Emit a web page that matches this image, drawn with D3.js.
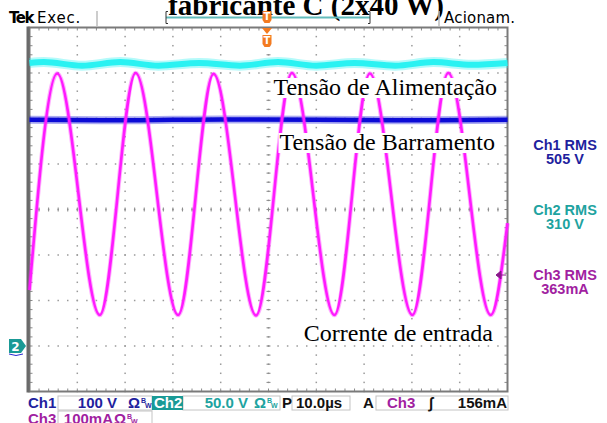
<!DOCTYPE html>
<html>
<head>
<meta charset="utf-8">
<script src="https://cdn.jsdelivr.net/npm/d3@7"></script>
<style>
  body { margin: 0; background: #fff; }
  svg { display: block; }
  .tek { font-family: "DejaVu Sans", sans-serif; }
  .ro { font-family: "Liberation Sans", Arial, sans-serif; font-weight: bold; }
  .serif { font-family: "Liberation Serif", "Times New Roman", serif; }
</style>
</head>
<body>
<script>
// scope settings
var timePerDiv = 10;          // µs / div
var ch1Scale = 100;           // V / div
var ch2Scale = 50;            // V / div
var ch3Scale = 100;           // mA / div
var groundDiv = -3;           // all channels referenced here

// Ch1 - bus voltage (dark blue)
var ch1Time = [0, 20, 40, 60, 80, 100];
var ch1Volts = [497, 496, 498, 497, 496, 497];

// Ch2 - supply voltage (cyan), small ripple
var ch2Time = [0, 3, 11, 19, 27, 35.5, 44, 52, 60, 68, 76.5, 84.5, 92.5, 100];
var ch2Volts = [311, 312, 308, 312, 308, 311, 308, 312, 308, 311, 308, 312, 309, 311];

// Ch3 - input current (magenta)
var ch3Time = [0, 5.8, 14.7, 22.2, 31.1, 38.5, 47.4, 54.9, 63.8, 71.2, 80.1, 87.6, 96.5, 100];
var ch3Current = [123, 599, 68, 600, 68, 598, 67, 600, 68, 599, 68, 600, 68, 270];

var rmsLabels = [
  { name: "Ch1 RMS", value: "505 V", color: "#1f1f9e" },
  { name: "Ch2 RMS", value: "310 V", color: "#1ea3a0" },
  { name: "Ch3 RMS", value: "363mA", color: "#a11fa1" }
];
var traceLabels = ["Tensão de Alimentação", "Tensão de Barramento", "Corrente de entrada"];

var W = 607, H = 423;
var pLeft = 29.5, pRight = 507.5, pTop = 27.5, pBottom = 391.5;

var svg = d3.select("body").append("svg")
  .attr("width", W)
  .attr("height", H);

svg.append("rect").attr("width", W).attr("height", H).attr("fill", "#fff");

var x = d3.scaleLinear().domain([0, 10 * timePerDiv]).range([pLeft, pRight]);
var y = d3.scaleLinear().domain([-4, 4]).range([pBottom, pTop]);

// title, cut at the top of the picture
svg.append("text")
  .attr("class", "serif")
  .attr("x", 306)
  .attr("y", 15)
  .attr("text-anchor", "middle")
  .attr("font-size", 29)
  .attr("font-weight", "bold")
  .text("fabricante C (2x40 W)");

// top status bar
svg.append("text").attr("class", "tek").attr("x", 9).attr("y", 23)
  .attr("font-size", 15).attr("font-weight", "bold").attr("letter-spacing", -1.5).text("Tek");
svg.append("text").attr("class", "tek").attr("x", 37).attr("y", 23)
  .attr("font-size", 15).attr("letter-spacing", 0.8).text("Exec.");
svg.append("text").attr("class", "tek").attr("x", 444).attr("y", 23)
  .attr("font-size", 15).attr("letter-spacing", 0.2).text("Acionam.");
[97, 439].forEach(function(sx) {
  svg.append("line").attr("x1", sx).attr("x2", sx).attr("y1", 11).attr("y2", 26)
    .attr("stroke", "#bdbdbd").attr("stroke-width", 1.5);
});
// record window bracket
svg.append("line").attr("x1", 166).attr("x2", 370).attr("y1", 17.5).attr("y2", 17.5)
  .attr("stroke", "#62bcbc").attr("stroke-width", 2);
svg.append("path").attr("d", "M168,11.5 H166 V23.5 H168 M368,11.5 H370 V23.5 H368")
  .attr("fill", "none").attr("stroke", "#333").attr("stroke-width", 1);

var orange = "#f47b20";
function tMarker(cx, cy) {
  svg.append("path")
    .attr("d", "M" + (cx - 4.5) + "," + (cy - 6) + " h9 v9 l-2,3 h-5 l-2,-3 z")
    .attr("fill", orange);
  svg.append("text").attr("class", "tek").attr("x", cx).attr("y", cy + 3)
    .attr("text-anchor", "middle").attr("font-size", 10).attr("font-weight", "bold")
    .attr("fill", "#fff").text("T");
}

// graticule dots
var grid = svg.append("g");
d3.range(1, 10).forEach(function(i) {
  d3.range(0, 40).forEach(function(j) {
    grid.append("rect").attr("x", x(i * timePerDiv) - 0.75).attr("y", y(-4 + j / 5) - 0.75)
      .attr("width", 1.5).attr("height", 1.5).attr("fill", "#9a9a9a");
  });
});
d3.range(-3, 4).forEach(function(d) {
  d3.range(0, 50).forEach(function(j) {
    grid.append("rect").attr("x", x(j * timePerDiv / 5) - 0.75).attr("y", y(d) - 0.75)
      .attr("width", 1.5).attr("height", 1.5).attr("fill", "#9a9a9a");
  });
});
// minor ticks along frame edges and centre lines
var ticks = svg.append("g").attr("stroke", "#8a8a8a").attr("stroke-width", 1);
d3.range(1, 50).forEach(function(j) {
  var tx = x(j * timePerDiv / 5);
  ticks.append("line").attr("x1", tx).attr("x2", tx).attr("y1", pTop).attr("y2", pTop + 3);
  ticks.append("line").attr("x1", tx).attr("x2", tx).attr("y1", pBottom).attr("y2", pBottom - 3);
  ticks.append("line").attr("x1", tx).attr("x2", tx).attr("y1", y(0) - 2).attr("y2", y(0) + 2);
});
d3.range(1, 40).forEach(function(j) {
  var ty = y(-4 + j / 5);
  ticks.append("line").attr("x1", pLeft).attr("x2", pLeft + 3).attr("y1", ty).attr("y2", ty);
  ticks.append("line").attr("x1", pRight).attr("x2", pRight - 3).attr("y1", ty).attr("y2", ty);
  ticks.append("line").attr("x1", x(50) - 2).attr("x2", x(50) + 2).attr("y1", ty).attr("y2", ty);
});
// frame
svg.append("rect").attr("x", pLeft).attr("y", pTop)
  .attr("width", pRight - pLeft).attr("height", pBottom - pTop)
  .attr("fill", "none").attr("stroke", "#7a7a7a").attr("stroke-width", 2);
svg.append("line").attr("x1", pLeft - 1.5).attr("x2", pLeft - 1.5).attr("y1", pTop - 1).attr("y2", pBottom + 1)
  .attr("stroke", "#6a6a6a").attr("stroke-width", 3);

// trigger position markers
tMarker(x(50) - 1.5, 17);
svg.append("path")
  .attr("d", "M" + (x(50) - 6.5) + ",28 h10 l-5,6 z").attr("fill", orange);
tMarker(x(50) - 1.5, 41);

// traces
function toDiv(v, scale) { return v / scale + groundDiv; }
function trace(times, vals, scale, color, core, halo, curve) {
  var pts = times.map(function(t, i) { return [t, vals[i]]; });
  var line = d3.line()
    .x(function(d) { return x(d[0]); })
    .y(function(d) { return y(toDiv(d[1], scale)); })
    .curve(curve);
  svg.append("path").datum(pts).attr("d", line).attr("fill", "none")
    .attr("stroke", color).attr("stroke-width", halo).attr("stroke-opacity", 0.35);
  svg.append("path").datum(pts).attr("d", line).attr("fill", "none")
    .attr("stroke", color).attr("stroke-width", core).attr("stroke-linejoin", "round");
}
trace(ch2Time, ch2Volts, ch2Scale, "#2af2f2", 6, 10, d3.curveMonotoneX);
trace(ch1Time, ch1Volts, ch1Scale, "#0b0bd6", 4.5, 8, d3.curveMonotoneX);
trace(ch3Time, ch3Current, ch3Scale, "#ff1aff", 2.6, 4.5, d3.curveMonotoneX);

// trace annotations on white boxes
var labelY = [95, 150, 341];
var labelRight = [497, 495, 493];
traceLabels.forEach(function(txt, i) {
  var t = svg.append("text").attr("class", "serif")
    .attr("x", labelRight[i]).attr("y", labelY[i])
    .attr("text-anchor", "end").attr("font-size", 24).text(txt);
  var bb = t.node().getBBox();
  svg.insert("rect", function() { return t.node(); })
    .attr("x", bb.x - 1).attr("y", bb.y + 4).attr("width", bb.width + 2).attr("height", bb.height - 6)
    .attr("fill", "#fff");
});

// ground marker for Ch2 (Ch1 underneath)
var gy = y(groundDiv);
svg.append("path")
  .attr("d", "M9," + (gy - 7) + " h12 l5,7 l-5,7 h-12 z").attr("fill", "#1a9a96");
svg.append("text").attr("class", "tek").attr("x", 15.5).attr("y", gy + 4.5)
  .attr("text-anchor", "middle").attr("font-size", 12).attr("font-weight", "bold")
  .attr("fill", "#fff").text("2");
svg.append("path").attr("d", "M9," + (gy + 8) + " q7,3 14,0")
  .attr("fill", "none").attr("stroke", "#2a2ad0").attr("stroke-width", 1);

// Ch3 trigger level marker on the right edge
var trigY = y(toDiv(156, ch3Scale));
svg.append("path")
  .attr("d", "M496," + trigY + " l5,-4 v8 z M500," + trigY + " h6")
  .attr("fill", "#8a1a8a").attr("stroke", "#8a1a8a").attr("stroke-width", 1);

// RMS readouts
rmsLabels.forEach(function(r, i) {
  var by = [150, 215, 280][i];
  svg.append("text").attr("class", "ro").attr("x", 565).attr("y", by)
    .attr("text-anchor", "middle").attr("font-size", 14.5)
    .attr("fill", r.color).text(r.name);
  svg.append("text").attr("class", "ro").attr("x", 565).attr("y", by + 13.5)
    .attr("text-anchor", "middle").attr("font-size", 14.5)
    .attr("fill", r.color).text(r.value);
});

// bottom status bar
var sb = svg.append("g").attr("class", "ro").attr("font-size", 15);
function box(x0, x1, y0) {
  sb.append("rect").attr("x", x0).attr("y", y0).attr("width", x1 - x0).attr("height", 14)
    .attr("fill", "#fff").attr("stroke", "#c4c4c4").attr("stroke-width", 1);
}
box(58, 152, 396); box(183, 280, 396); box(292, 350, 396); box(376, 508, 396);
box(58, 152, 411);
sb.append("rect").attr("x", 152).attr("y", 396).attr("width", 31).attr("height", 14).attr("fill", "#1a9a96");

function st(tx, ty, txt, color, anchor) {
  return sb.append("text").attr("x", tx).attr("y", ty).attr("fill", color)
    .attr("text-anchor", anchor || "start").text(txt);
}
st(28, 408, "Ch1", "#1f1f9e");
st(117, 408, "100 V", "#1f1f9e", "end");
st(128, 408, "Ω", "#1f1f9e");
st(154, 408, "Ch2", "#ffffff");
st(248, 408, "50.0 V", "#1ea3a0", "end");
st(254, 408, "Ω", "#1ea3a0");
st(282, 408, "P", "#111");
st(296, 408, "10.0µs", "#111");
st(363, 408, "A", "#111");
st(387, 408, "Ch3", "#a11fa1");
st(429, 408, "∫", "#111");
st(507, 408, "156mA", "#111", "end");
st(28, 424, "Ch3", "#a11fa1");
st(113, 424, "100mA", "#a11fa1", "end");
st(114, 424, "Ω", "#a11fa1");
// tiny bandwidth marks next to the ohm signs
[[141, 403, "#1f1f9e"], [267, 403, "#1ea3a0"], [127, 419, "#a11fa1"]].forEach(function(m) {
  sb.append("text").attr("x", m[0]).attr("y", m[1]).attr("font-size", 7).attr("fill", m[2]).text("B");
  sb.append("text").attr("x", m[0] + 4).attr("y", m[1] + 5).attr("font-size", 7).attr("fill", m[2]).text("W");
});
</script>
</body>
</html>
